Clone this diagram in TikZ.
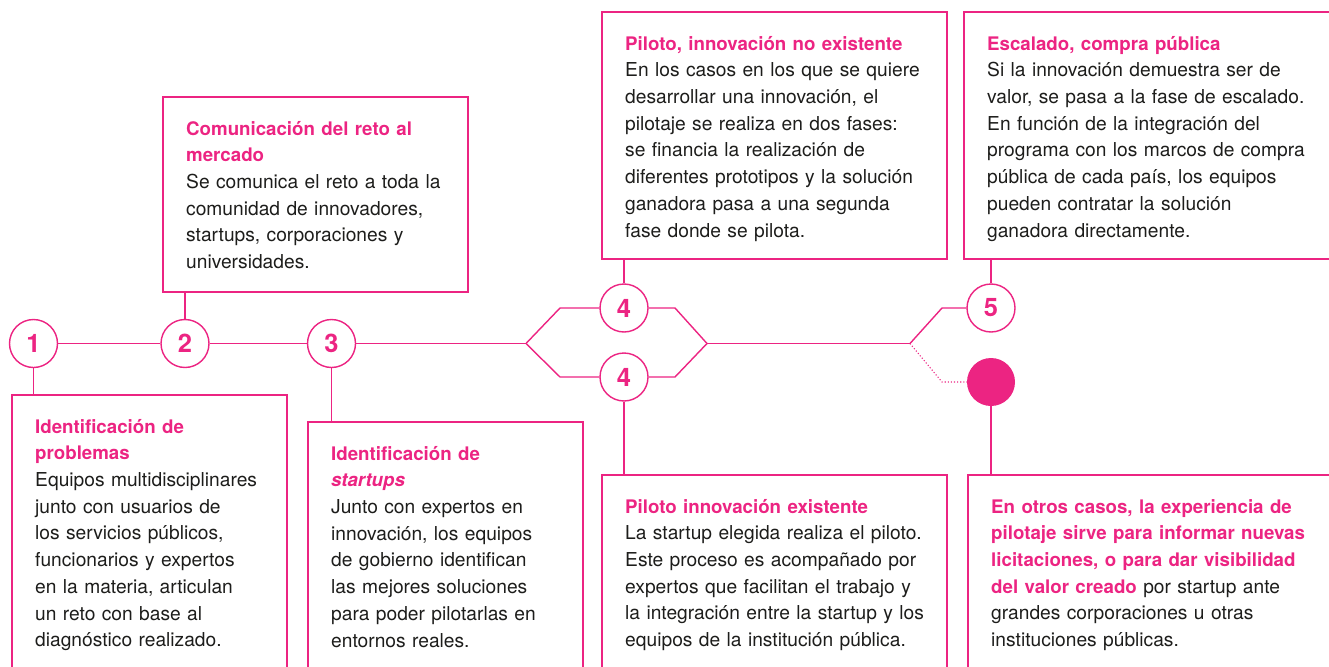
\documentclass[tikz,border=0pt]{standalone}
\usepackage{fontspec}
\setmainfont{TeX Gyre Heros}
\definecolor{pk}{RGB}{236,36,130}
\definecolor{ink}{RGB}{29,29,27}
\newcommand{\ttl}[1]{{\color{pk}\fontsize{18.7}{26.7}\selectfont\bfseries #1}}
\begin{document}
\begin{tikzpicture}[x=1pt,y=1pt,
  num/.style={circle, draw=pk, line width=1.4pt, fill=white, minimum size=48pt, inner sep=0pt,
    font=\fontsize{25.5}{25.5}\selectfont\bfseries, text=pk},
  dotnode/.style={circle, fill=pk, minimum size=48pt, inner sep=0pt},
  box/.style={draw=pk, line width=1.4pt, rectangle, inner sep=0pt, outer sep=0pt, anchor=north west},
  txt/.style={anchor=north west, inner sep=0pt, align=left, text width=360pt,
    font=\fontsize{19.2}{26.7}\selectfont, text=ink},
  wire/.style={draw=pk, line width=1.4pt},
  dotwire/.style={draw=pk, line width=1.1pt, dotted}]
\useasboundingbox (0,0) rectangle (1329,-666);

% boxes
\node[box, minimum width=275pt, minimum height=305pt] (b1) at (12,-395) {};
\node[box, minimum width=305pt, minimum height=195pt] (b2) at (163,-97) {};
\node[box, minimum width=275pt, minimum height=278pt] (b3) at (308,-422) {};
\node[box, minimum width=345pt, minimum height=247pt] (b4t) at (602,-12) {};
\node[box, minimum width=345pt, minimum height=225pt] (b4b) at (602,-475) {};
\node[box, minimum width=376pt, minimum height=247pt] (b5) at (964,-12) {};
\node[box, minimum width=372pt, minimum height=225pt] (b6) at (968,-475) {};

% texts
\node[txt] (t1) at ([shift={(23,-19.3)}]b1.north west) {\strut\ttl{Identificación de}\\
\ttl{problemas}\\
Equipos multidisciplinares\\
junto con usuarios de\\
los servicios públicos,\\
funcionarios y expertos\\
en la materia, articulan\\
un reto con base al\\
diagnóstico realizado.};
\node[txt] (t2) at ([shift={(23,-19.3)}]b2.north west) {\strut\ttl{Comunicación del reto al}\\
\ttl{mercado}\\
Se comunica el reto a toda la\\
comunidad de innovadores,\\
startups, corporaciones y\\
universidades.};
\node[txt] (t3) at ([shift={(23,-19.3)}]b3.north west) {\strut\ttl{Identificación de}\\
\ttl{\itshape startups}\\
Junto con expertos en\\
innovación, los equipos\\
de gobierno identifican\\
las mejores soluciones\\
para poder pilotarlas en\\
entornos reales.};
\node[txt] (t4t) at ([shift={(23,-19.3)}]b4t.north west) {\strut\ttl{Piloto, innovación no existente}\\
En los casos en los que se quiere\\
desarrollar una innovación, el\\
pilotaje se realiza en dos fases:\\
se financia la realización de\\
diferentes prototipos y la solución\\
ganadora pasa a una segunda\\
fase donde se pilota.};
\node[txt] (t4b) at ([shift={(23,-19.3)}]b4b.north west) {\strut\ttl{Piloto innovación existente}\\
La startup elegida realiza el piloto.\\
Este proceso es acompañado por\\
expertos que facilitan el trabajo y\\
la integración entre la startup y los\\
equipos de la institución pública.};
\node[txt] (t5) at ([shift={(23,-19.3)}]b5.north west) {\strut\ttl{Escalado, compra pública}\\
Si la innovación demuestra ser de\\
valor, se pasa a la fase de escalado.\\
En función de la integración del\\
programa con los marcos de compra\\
pública de cada país, los equipos\\
pueden contratar la solución\\
ganadora directamente.};
\node[txt] (t6) at ([shift={(23,-19.3)}]b6.north west) {\strut\ttl{En otros casos, la experiencia de}\\
\ttl{pilotaje sirve para informar nuevas}\\
\ttl{licitaciones, o para dar visibilidad}\\
\ttl{del valor creado} por startup ante\\
grandes corporaciones u otras\\
instituciones públicas.};

% circles
\node[num] (c1) at (33.5,-343.5) {1};
\node[num] (c2) at (185,-343.5) {2};
\node[num] (c3) at (331.5,-343.5) {3};
\node[num] (c4a) at (624,-308) {4};
\node[num] (c4b) at (624,-377) {4};
\node[num] (c5) at (991,-308) {5};
\node[dotnode] (dot) at (991,-382) {};

% junction points
\coordinate (jl) at (526,-343.5);
\coordinate (l1) at (560,-308);
\coordinate (l2) at (560,-377);
\coordinate (r1) at (675,-308);
\coordinate (r2) at (675,-377);
\coordinate (jr) at (707,-343.5);
\coordinate (jm) at (910,-343.5);
\coordinate (u5) at (942,-308);
\coordinate (ud) at (942,-382);

% wires
\draw[wire] (c1) -- (c2);
\draw[wire] (c2) -- (c3);
\draw[wire] (c3) -- (jl);
\draw[wire] (jl) -- (l1) -- (c4a);
\draw[wire] (c4a) -- (r1) -- (jr);
\draw[wire] (jl) -- (l2) -- (c4b);
\draw[wire] (c4b) -- (r2) -- (jr);
\draw[wire] (jr) -- (jm);
\draw[wire] (jm) -- (u5) -- (c5);
\draw[dotwire] (jm) -- (ud) -- (dot);

% vertical connectors
\draw[wire] (c1.south) -- (c1.south |- b1.north);
\draw[wire] (c2.north) -- (c2.north |- b2.south);
\draw[wire] (c3.south) -- (c3.south |- b3.north);
\draw[wire] (c4a.north) -- (c4a.north |- b4t.south);
\draw[wire] (c4b.south) -- (c4b.south |- b4b.north);
\draw[wire] (c5.north) -- (c5.north |- b5.south);
\draw[wire] (dot.south) -- (dot.south |- b6.north);
\end{tikzpicture}
\end{document}
